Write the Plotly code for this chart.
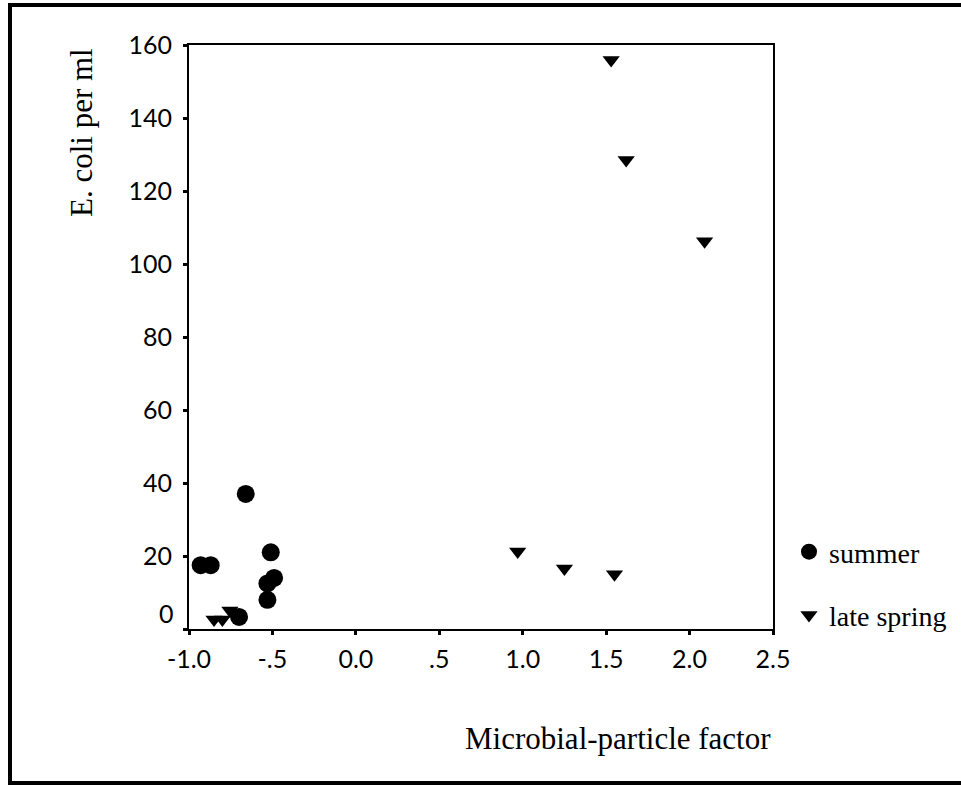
import plotly.graph_objects as go

# ---- data ----
summer_x = [-0.93, -0.87, -0.66, -0.51, -0.49, -0.53, -0.53, -0.70]
summer_y = [17.5, 17.5, 37.0, 21.0, 14.0, 12.5, 8.0, 3.3]

spring_x = [-0.85, -0.80, -0.755, 0.97, 1.25, 1.55, 1.53, 1.62, 2.09]
spring_y = [2.6, 2.6, 5.1, 21.2, 16.6, 15.0, 155.9, 128.5, 106.2]

x_ticks = [-1.0, -0.5, 0.0, 0.5, 1.0, 1.5, 2.0, 2.5]
x_labels = ["-1.0", "-.5", "0.0", ".5", "1.0", "1.5", "2.0", "2.5"]
y_ticks = [0, 20, 40, 60, 80, 100, 120, 140, 160]
y_labels = ["", "20", "40", "60", "80", "100", "120", "140", "160"]

x_title = "Microbial-particle factor"
y_title = "E. coli per ml"

W, H = 961, 786
L, R, T, B = 189, 188, 45, 157
PW = W - L - R
PH = H - T - B


def px_x(p):
    return (p - L) / PW


def px_y(p):
    return (H - B - p) / PH


SERIF = "Liberation Serif, Times New Roman, serif"
SANS = "Lato, Open Sans, sans-serif"

fig = go.Figure()
fig.add_trace(go.Scatter(
    x=summer_x, y=summer_y, mode="markers", name="summer",
    legendgroup="a",
    marker=dict(symbol="circle", size=18, color="black", line=dict(width=0)),
    cliponaxis=False,
))
fig.add_trace(go.Scatter(
    x=spring_x, y=spring_y, mode="markers", name="late spring",
    legendgroup="b",
    marker=dict(symbol="triangle-down", size=15, color="black", line=dict(width=0)),
    cliponaxis=False,
))

axis_common = dict(
    showline=True, linecolor="black", linewidth=2, mirror=True,
    showgrid=False, zeroline=False,
    ticks="outside", ticklen=4, tickwidth=3, tickcolor="black",
    tickfont=dict(family=SANS, size=25, color="black"),
    automargin=False,
)

fig.update_xaxes(range=[-1.0, 2.5], tickvals=x_ticks, ticktext=x_labels,
                 ticklabelstandoff=3, **axis_common)
fig.update_yaxes(range=[0, 160], tickvals=y_ticks, ticktext=y_labels,
                 ticklabelstandoff=6, **axis_common)

annotations = [
    dict(text=x_title, xref="paper", yref="paper", x=px_x(618), y=px_y(738),
         xanchor="center", yanchor="middle", showarrow=False,
         font=dict(family=SERIF, size=31, color="#000000")),
    dict(text=y_title, xref="paper", yref="paper", x=px_x(81), y=px_y(133),
         xanchor="center", yanchor="middle", showarrow=False, textangle=-90,
         font=dict(family=SERIF, size=31, color="#000000")),
    dict(text="0", xref="paper", yref="paper", x=px_x(176), y=px_y(613),
         xanchor="right", yanchor="middle", showarrow=False,
         font=dict(family=SANS, size=25, color="black")),
]

shapes = [
    # scanned page frame
    dict(type="line", xref="paper", yref="paper", x0=px_x(10), x1=px_x(10),
         y0=px_y(4), y1=px_y(784), line=dict(color="black", width=4)),
    dict(type="line", xref="paper", yref="paper", x0=px_x(8), x1=px_x(975),
         y0=px_y(5), y1=px_y(5), line=dict(color="black", width=4)),
    dict(type="line", xref="paper", yref="paper", x0=px_x(8), x1=px_x(975),
         y0=px_y(783), y1=px_y(783), line=dict(color="black", width=4)),
]

fig.update_layout(
    width=W, height=H,
    margin=dict(l=L, r=R, t=T, b=B, pad=0, autoexpand=False),
    paper_bgcolor="white", plot_bgcolor="white",
    showlegend=True,
    legend=dict(xref="container", yref="container",
                x=789 / W, y=1 - 527 / H, xanchor="left", yanchor="top",
                font=dict(family=SERIF, size=28, color="black"),
                bgcolor="rgba(0,0,0,0)", borderwidth=0,
                tracegroupgap=24, itemsizing="trace"),
    annotations=annotations,
    shapes=shapes,
)

fig.write_html("out.html")
